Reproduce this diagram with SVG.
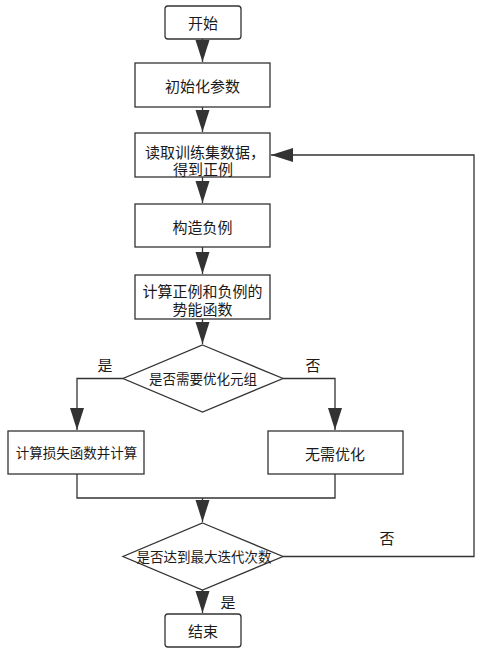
<svg xmlns="http://www.w3.org/2000/svg" width="477" height="649" viewBox="0 0 477 649">
<style>
.n{fill:#fff;stroke:#333;stroke-width:1.3}
.t{font-family:"Liberation Sans","Noto Sans CJK SC",sans-serif;font-size:15px;fill:#1a1a1a;text-anchor:middle;dominant-baseline:central}
.s{font-size:13.5px}
.c{fill:none;stroke:#333;stroke-width:1.3}
</style>
<defs>
<marker id="a" markerUnits="userSpaceOnUse" markerWidth="23" markerHeight="15" refX="22" refY="7" orient="auto">
<path d="M0,0 L22,7 L0,14 z" fill="#333"/>
</marker>
</defs>
<rect width="477" height="649" fill="#fff"/>
<g id="connectors">
<path class="c" d="M202.5,39 V62" marker-end="url(#a)"/>
<path class="c" d="M202.5,107 V132" marker-end="url(#a)"/>
<path class="c" d="M202.5,177 V203" marker-end="url(#a)"/>
<path class="c" d="M202.5,247 V274" marker-end="url(#a)"/>
<path class="c" d="M202.5,319 V344" marker-end="url(#a)"/>
<path class="c" d="M123,378.5 H77 V430" marker-end="url(#a)"/>
<path class="c" d="M283,378.5 H335 V430" marker-end="url(#a)"/>
<path class="c" d="M77,474 V498 H335 V474"/>
<path class="c" d="M202.5,498 V522" marker-end="url(#a)"/>
<path class="c" d="M283,556.5 H474 V155 H271" marker-end="url(#a)"/>
<path class="c" d="M202.5,590 V613" marker-end="url(#a)"/>
<text class="t" x="105" y="365">是</text>
<text class="t" x="313" y="365">否</text>
<text class="t" x="387" y="538">否</text>
<text class="t" x="228" y="602">是</text>
</g>
<g id="start"><rect class="n" x="165" y="6" width="76" height="33" rx="3"/><text class="t" x="203" y="23">开始</text></g>
<g id="init"><rect class="n" x="135" y="63" width="135" height="44"/><text class="t" x="202.5" y="86">初始化参数</text></g>
<g id="read"><rect class="n" x="135" y="133" width="135" height="44"/><text class="t" x="205" y="152">读取训练集数据，</text><text class="t" x="203" y="169">得到正例</text></g>
<g id="neg"><rect class="n" x="135" y="204" width="135" height="43"/><text class="t" x="202.5" y="227">构造负例</text></g>
<g id="energy"><rect class="n" x="135" y="275" width="135" height="44"/><text class="t" x="202.5" y="291">计算正例和负例的</text><text class="t" x="202.5" y="309">势能函数</text></g>
<g id="d1"><polygon class="n" points="202.5,345 283,378.5 202.5,412 123,378.5"/><text class="t s" x="203" y="379">是否需要优化元组</text></g>
<g id="loss"><rect class="n" x="8" y="431" width="136" height="43"/><text class="t s" x="76.5" y="453">计算损失函数并计算</text></g>
<g id="noopt"><rect class="n" x="268" y="431" width="135" height="43"/><text class="t" x="335" y="454">无需优化</text></g>
<g id="d2"><polygon class="n" points="202.5,523 283,556.5 202.5,590 123,556.5"/><text class="t s" x="204" y="557">是否达到最大迭代次数</text></g>
<g id="end"><rect class="n" x="165" y="614" width="76" height="33" rx="3"/><text class="t" x="203" y="631">结束</text></g>
</svg>
